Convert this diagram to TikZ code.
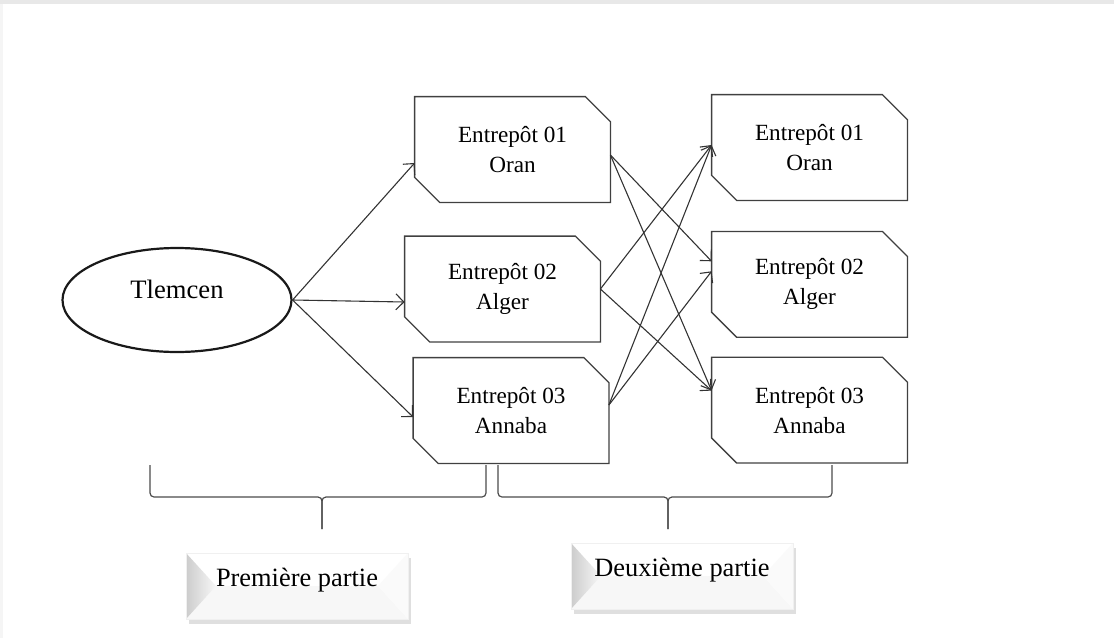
\documentclass[tikz,border=0pt]{standalone}
\usepackage{fontspec}
\setmainfont{Liberation Serif}
\usetikzlibrary{arrows.meta}
\usetikzlibrary{shapes.geometric,shadows,positioning}

\begin{document}
\begin{tikzpicture}[x=0.5pt, y=-0.5pt, >={Straight Barb[length=4pt,width=8pt]}]
		\tikzstyle{main}=[ellipse, minimum width=114.5pt, minimum height=52pt, inner sep=0pt, line width=1.1pt, draw=black!90, font=\fontsize{13.3}{15}\selectfont, text height=0pt, text depth=1.2pt]
		\tikzstyle{depot}=[rectangle, minimum width=97.5pt, minimum height=52.5pt, inner sep=0pt, align=center, font=\fontsize{11.6}{15}\selectfont]
		\tikzstyle{outline}=[line width=0.65pt, draw=black!75]
		\tikzstyle{connect}=[->, line width=0.55pt, draw=black!80]
		\tikzstyle{brace}=[line width=0.6pt, draw=black!70, rounded corners=2pt]
		\tikzstyle{partie}=[rectangle, minimum width=111pt, minimum height=33pt, inner sep=0pt, fill=white, draw=black!6, font=\fontsize{13.2}{15}\selectfont, text height=0pt, text depth=0pt,
			drop shadow={shadow xshift=1.5pt, shadow yshift=-2.5pt, opacity=.25},
			path picture={
				\fill[black!3] (path picture bounding box.south west) -- ([xshift=15pt]path picture bounding box.west) -- ([xshift=-15pt]path picture bounding box.east) -- (path picture bounding box.south east) -- cycle;
				\fill[black!2] (path picture bounding box.north east) -- ([xshift=-15pt]path picture bounding box.east) -- (path picture bounding box.south east) -- cycle;
				\fill[left color=black!20, right color=black!3] (path picture bounding box.north west) -- ([xshift=15pt]path picture bounding box.west) -- (path picture bounding box.south west) -- cycle;
			}]
		\useasboundingbox (0,0) rectangle (1114,638);
		\fill[black!9] (0,0) rectangle (1114,4);
		\fill[black!4] (0,4) rectangle (3,638);
		\node[main] (tlemcen) at (177,300) {Tlemcen};
		\node[depot] (l1) at (512.5,149.5) {Entrepôt 01\\Oran};
		\node[depot] (l2) at (502.5,289) {Entrepôt 02\\Alger};
		\node[depot] (l3) at (511,410.5) {Entrepôt 03\\Annaba};
		\node[depot] (r1) at (809.5,147.5) {Entrepôt 01\\Oran};
		\node[depot] (r2) [below=15.5pt of r1] {Entrepôt 02\\Alger};
		\node[depot] (r3) [below=10pt of r2] {Entrepôt 03\\Annaba};
		\foreach \n in {l1,l2,l3,r1,r2,r3}
			\draw[outline] ([xshift=-12.5pt]\n.north east) -- ([yshift=-12.5pt]\n.north east) -- (\n.south east) -- ([xshift=12.5pt]\n.south west) -- ([yshift=12.5pt]\n.south west) -- (\n.north west) -- cycle;
		\path
		(tlemcen.east) edge [connect] ([yshift=-6.75pt]l1.west)
		(tlemcen.east) edge [connect] ([yshift=-6.5pt]l2.west)
		(tlemcen.east) edge [connect] ([yshift=-3.25pt]l3.west)
		([yshift=-2.75pt]l1.east) edge [connect] ([yshift=11.5pt]r2.west)
		([yshift=-2.75pt]l1.east) edge [connect] ([yshift=9.75pt]r3.west)
		(l2.east) edge [connect] ([yshift=1.25pt]r1.west)
		(l2.east) edge [connect] ([yshift=9.75pt]r3.west)
		([yshift=2.75pt]l3.east) edge [connect] ([yshift=1.25pt]r1.west)
		([yshift=2.75pt]l3.east) edge [connect] ([yshift=6.5pt]r2.west)
		;
		% accolades
		\draw[brace] (150,465) -- (150,497) -- (322,497) -- (322,529);
		\draw[brace] (486,465) -- (486,497) -- (322,497) -- (322,529);
		\draw[brace] (498,465) -- (498,497) -- (668,497) -- (668,529);
		\draw[brace] (832,465) -- (832,497) -- (668,497) -- (668,529);
		\node[partie] (part1) at (297,586) {Première partie};
		\node[partie] (part2) at (682,576) {Deuxième partie};
	\end{tikzpicture}
\end{document}
